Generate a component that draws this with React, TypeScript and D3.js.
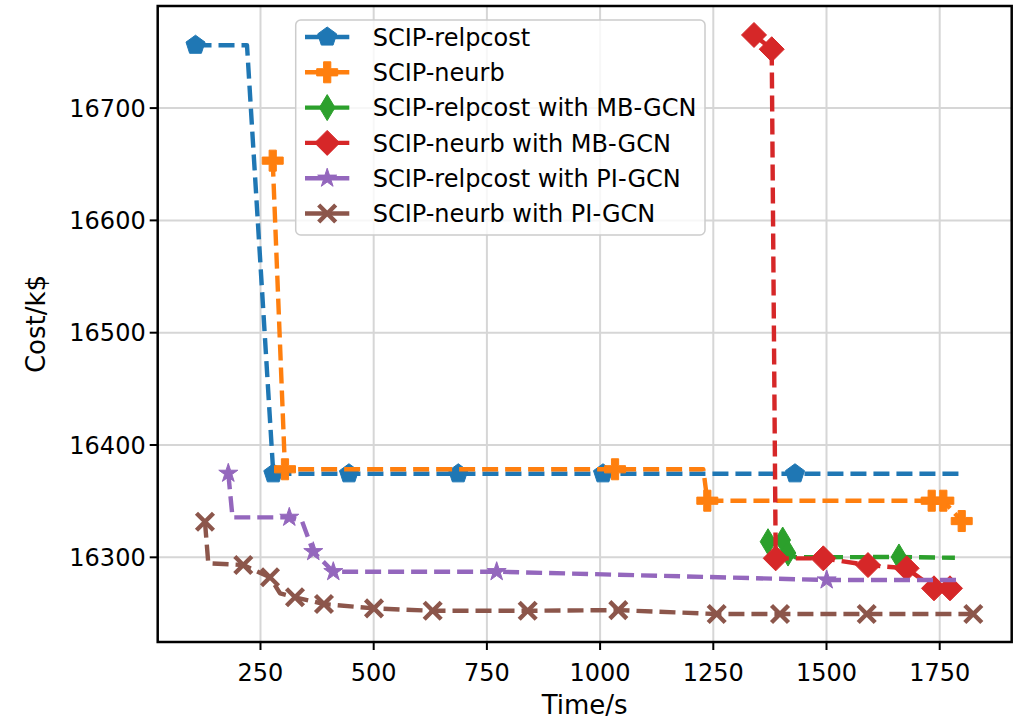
import React from "react";
import * as d3 from "d3";

// ---- data: solve time (s) and incumbent cost (k$) for each branching strategy ----
const relpcostTime = [106.5, 220.2, 278.3, 445.4, 686.8, 1006.4, 1430.4, 1799.2];
const relpcostCost = [16756, 16756, 16374.4, 16374.4, 16374.4, 16374.4, 16374.4, 16374.4];
const relpcostMarked = [1, 0, 1, 1, 1, 1, 1, 0];

const neurbTime = [277, 304.1, 1033, 1227.9, 1236.8, 1732.3, 1758, 1798.6];
const neurbCost = [16653.2, 16378.4, 16378.4, 16378.4, 16350.4, 16350.4, 16350.4, 16332.3];
const neurbMarked = [1, 1, 1, 0, 1, 1, 1, 1];

const relpcostMbTime = [1370.8, 1403.3, 1415, 1432, 1660, 1783.6];
const relpcostMbCost = [16313.9, 16315.4, 16303.8, 16300, 16300.3, 16299.6];
const relpcostMbMarked = [1, 1, 1, 0, 1, 0];

const neurbMbTime = [1339.9, 1379, 1387.8, 1492.9, 1591.6, 1677, 1737.4, 1772.7];
const neurbMbCost = [16765.1, 16752.4, 16299.1, 16299.1, 16293.1, 16290.2, 16272.4, 16272.4];
const neurbMbMarked = [1, 1, 1, 1, 1, 1, 1, 1];

const relpcostPiTime = [178.9, 188.2, 313.6, 341.6, 366.6, 410.8, 771.6, 1500.4, 1798.6];
const relpcostPiCost = [16374.8, 16335.6, 16335.6, 16332.3, 16305, 16287.2, 16287.2, 16279.8, 16279.8];
const relpcostPiMarked = [1, 0, 1, 0, 1, 1, 1, 1, 0];

const neurbPiTime = [127.4, 134.7, 212, 271, 293.1, 326.2, 390.2, 500.7, 630.3, 840.1, 1040.2, 1257.5, 1397.3, 1588.8, 1824.2];
const neurbPiCost = [16331.7, 16294.7, 16293.1, 16282.2, 16268, 16264.4, 16258.4, 16254.5, 16252.4, 16252.4, 16253, 16249.5, 16249.5, 16249.5, 16249.5];
const neurbPiMarked = [1, 0, 1, 1, 0, 1, 1, 1, 1, 1, 1, 1, 1, 1, 1];

const seriesNames = [
  "SCIP-relpcost",
  "SCIP-neurb",
  "SCIP-relpcost with MB-GCN",
  "SCIP-neurb with MB-GCN",
  "SCIP-relpcost with PI-GCN",
  "SCIP-neurb with PI-GCN",
];
const seriesColors = ["#1f77b4", "#ff7f0e", "#2ca02c", "#d62728", "#9467bd", "#8c564b"];
const seriesMarkers = ["pentagon", "plus", "thindiamond", "diamond", "star", "x"];

const xTicks = [250, 500, 750, 1000, 1250, 1500, 1750];
const yTicks = [16300, 16400, 16500, 16600, 16700];

type Series = { name: string; color: string; marker: string; x: number[]; y: number[]; m: number[] };

const series: Series[] = [
  [relpcostTime, relpcostCost, relpcostMarked],
  [neurbTime, neurbCost, neurbMarked],
  [relpcostMbTime, relpcostMbCost, relpcostMbMarked],
  [neurbMbTime, neurbMbCost, neurbMbMarked],
  [relpcostPiTime, relpcostPiCost, relpcostPiMarked],
  [neurbPiTime, neurbPiCost, neurbPiMarked],
].map(([x, y, m], i) => ({
  name: seriesNames[i],
  color: seriesColors[i],
  marker: seriesMarkers[i],
  x,
  y,
  m,
}));

// ---- layout ----
const W = 1025;
const H = 720;
const plot = { left: 157.7, right: 1011.7, top: 6, bottom: 642 };
const FONT = "'DejaVu Sans', sans-serif";
const FS = 24;
const LW = 4.4;

const xScale = d3.scaleLinear().domain([23, 1909]).range([plot.left, plot.right]);
const yScale = d3.scaleLinear().domain([16224.6, 16790.9]).range([plot.bottom, plot.top]);

function polygon(pts: [number, number][]) {
  return "M" + pts.map((p) => p[0].toFixed(2) + "," + p[1].toFixed(2)).join("L") + "Z";
}

function markerPath(kind: string): string {
  if (kind === "pentagon") {
    const r = 10;
    return polygon(
      d3.range(5).map((k) => {
        const a = (-90 + 72 * k) * (Math.PI / 180);
        return [r * Math.cos(a), r * Math.sin(a)];
      })
    );
  }
  if (kind === "plus") {
    const a = 10.5;
    const t = 3.6;
    return polygon([
      [-t, -a], [t, -a], [t, -t], [a, -t], [a, t], [t, t],
      [t, a], [-t, a], [-t, t], [-a, t], [-a, -t], [-t, -t],
    ]);
  }
  if (kind === "diamond") {
    const r = 12.5;
    return polygon([[0, -r], [r, 0], [0, r], [-r, 0]]);
  }
  if (kind === "thindiamond") {
    const h = 13;
    const w = 7.8;
    return polygon([[0, -h], [w, 0], [0, h], [-w, 0]]);
  }
  if (kind === "star") {
    const R = 10;
    const r = R * 0.381966;
    return polygon(
      d3.range(10).map((k) => {
        const a = (-90 + 36 * k) * (Math.PI / 180);
        const rr = k % 2 === 0 ? R : r;
        return [rr * Math.cos(a), rr * Math.sin(a)];
      })
    );
  }
  // x marker, stroked
  const s = 8.5;
  return `M${-s},${-s}L${s},${s}M${-s},${s}L${s},${-s}`;
}

function Marker({ kind, color, x, y }: { kind: string; color: string; x: number; y: number }) {
  const d = markerPath(kind);
  if (kind === "x") {
    return <path d={d} transform={`translate(${x},${y})`} fill="none" stroke={color} strokeWidth={LW} />;
  }
  return <path d={d} transform={`translate(${x},${y})`} fill={color} stroke={color} strokeWidth={1} strokeLinejoin="miter" />;
}

export default function App() {
  const line = d3
    .line<[number, number]>()
    .x((d) => xScale(d[0]))
    .y((d) => yScale(d[1]));

  const legend = { x: 295.7, y: 20, w: 409.3, h: 215, row0: 37, rowStep: 35.3 };

  return (
    <div style={{ position: "absolute", left: 0, top: 0 }}>
      <svg width={W} height={H} style={{ display: "block", background: "#fff" }} fontFamily={FONT}>
        <rect x={0} y={0} width={W} height={H} fill="#fff" />

        {/* grid */}
        <g stroke="#d6d6d6" strokeWidth={2}>
          {xTicks.map((t) => (
            <line key={"gx" + t} x1={xScale(t)} x2={xScale(t)} y1={plot.top} y2={plot.bottom} />
          ))}
          {yTicks.map((t) => (
            <line key={"gy" + t} x1={plot.left} x2={plot.right} y1={yScale(t)} y2={yScale(t)} />
          ))}
        </g>

        {/* series */}
        {series.map((s) => {
          const pts = s.x.map((v, i) => [v, s.y[i]] as [number, number]);
          return (
            <g key={s.name}>
              <path
                d={line(pts) || ""}
                fill="none"
                stroke={s.color}
                strokeWidth={LW}
                strokeDasharray="16 7"
                strokeLinejoin="round"
              />
              {pts.map((p, i) =>
                s.m[i] ? <Marker key={i} kind={s.marker} color={s.color} x={xScale(p[0])} y={yScale(p[1])} /> : null
              )}
            </g>
          );
        })}

        {/* ticks */}
        <g stroke="#000" strokeWidth={2}>
          {xTicks.map((t) => (
            <line key={"tx" + t} x1={xScale(t)} x2={xScale(t)} y1={plot.bottom} y2={plot.bottom + 8} />
          ))}
          {yTicks.map((t) => (
            <line key={"ty" + t} x1={plot.left - 8} x2={plot.left} y1={yScale(t)} y2={yScale(t)} />
          ))}
        </g>
        <g fontSize={FS} fill="#000">
          {xTicks.map((t) => (
            <text key={"lx" + t} x={xScale(t)} y={plot.bottom + 39} textAnchor="middle">
              {t}
            </text>
          ))}
          {yTicks.map((t) => (
            <text key={"ly" + t} x={plot.left - 12} y={yScale(t) + 8.5} textAnchor="end">
              {t}
            </text>
          ))}
        </g>

        {/* spines */}
        <rect
          x={plot.left}
          y={plot.top}
          width={plot.right - plot.left}
          height={plot.bottom - plot.top}
          fill="none"
          stroke="#000"
          strokeWidth={2.5}
        />

        {/* axis titles */}
        <text x={(plot.left + plot.right) / 2} y={714} textAnchor="middle" fontSize={26}>
          Time/s
        </text>
        <text
          transform={`translate(45,${(plot.top + plot.bottom) / 2}) rotate(-90)`}
          textAnchor="middle"
          fontSize={26}
        >
          Cost/k$
        </text>

        {/* legend */}
        <g>
          <rect
            x={legend.x}
            y={legend.y}
            width={legend.w}
            height={legend.h}
            rx={5}
            fill="#fff"
            fillOpacity={0.8}
            stroke="#cccccc"
            strokeWidth={1.5}
          />
          {series.map((s, i) => {
            const cy = legend.row0 + i * legend.rowStep;
            return (
              <g key={"lg" + s.name}>
                <line x1={305} x2={349.3} y1={cy} y2={cy} stroke={s.color} strokeWidth={LW} />
                <Marker kind={s.marker} color={s.color} x={327.2} y={cy} />
                <text x={372.7} y={cy + 8.6} fontSize={FS}>
                  {s.name}
                </text>
              </g>
            );
          })}
        </g>
      </svg>
    </div>
  );
}
